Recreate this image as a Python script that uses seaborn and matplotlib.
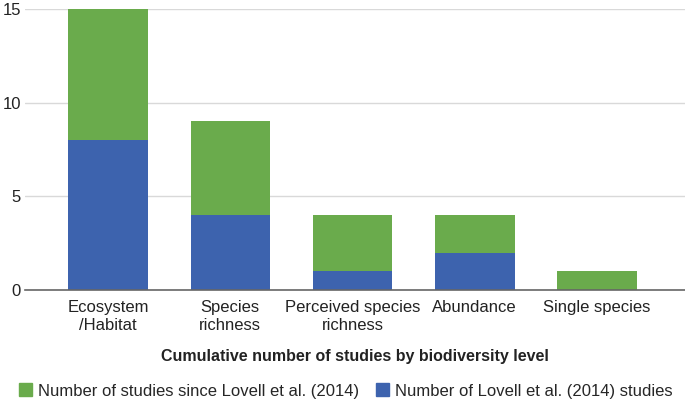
import pandas as pd
import matplotlib.pyplot as plt
import seaborn as sns
from matplotlib.patches import Patch

# --- datos ---
CATEGORIES = ["Ecosystem\n/Habitat", "Species\nrichness", "Perceived species\nrichness",
              "Abundance", "Single species"]
LOVELL = [8, 4, 1, 2, 0]
SINCE = [7, 5, 3, 2, 1]

GREEN = "#6aab4c"
BLUE = "#3d63ae"

df = pd.DataFrame({"Category": CATEGORIES, "Lovell": LOVELL, "Since": SINCE})
df["Total"] = df["Lovell"] + df["Since"]

sns.set_theme(style="white")
plt.rcParams["font.family"] = ["Liberation Sans", "DejaVu Sans"]

fig = plt.figure(figsize=(6.85, 4.09), dpi=100)
ax = fig.add_axes([0.0365, 0.291, 0.9635, 0.687])

# total (verde) y encima la parte de Lovell (azul)
sns.barplot(data=df, x="Category", y="Total", color=GREEN, saturation=1,
            width=0.65, linewidth=0, ax=ax)
sns.barplot(data=df, x="Category", y="Lovell", color=BLUE, saturation=1,
            width=0.65, linewidth=0, ax=ax)

ax.set_xlim(-0.68, 4.72)
ax.set_ylim(0, 15)
ax.set_yticks([0, 5, 10, 15])
ax.yaxis.grid(True, color="#d9d9d9", linewidth=1)
ax.set_axisbelow(True)
for s in ["left", "right", "top"]:
    ax.spines[s].set_visible(False)
ax.spines["bottom"].set_color("#666666")
ax.spines["bottom"].set_linewidth(1.2)
ax.tick_params(axis="both", length=0, labelsize=12, colors="#222222")
ax.tick_params(axis="y", pad=3)
ax.tick_params(axis="x", pad=7)
for lbl in ax.get_xticklabels():
    lbl.set_linespacing(1.3)
ax.set_ylabel("")
ax.set_xlabel("Cumulative number of studies by biodiversity level",
              fontweight="bold", fontsize=11.5, labelpad=11, color="#222222")

handles = [Patch(color=GREEN, label="Number of studies since Lovell et al. (2014)"),
           Patch(color=BLUE, label="Number of Lovell et al. (2014) studies")]
fig.legend(handles=handles, loc="center", bbox_to_anchor=(0.505, 0.044), ncol=2,
           frameon=False, fontsize=12, handlelength=0.8, handleheight=0.8,
           handletextpad=0.35, columnspacing=1.0, borderpad=0)

plt.savefig("out.png", dpi=100)
plt.close()
